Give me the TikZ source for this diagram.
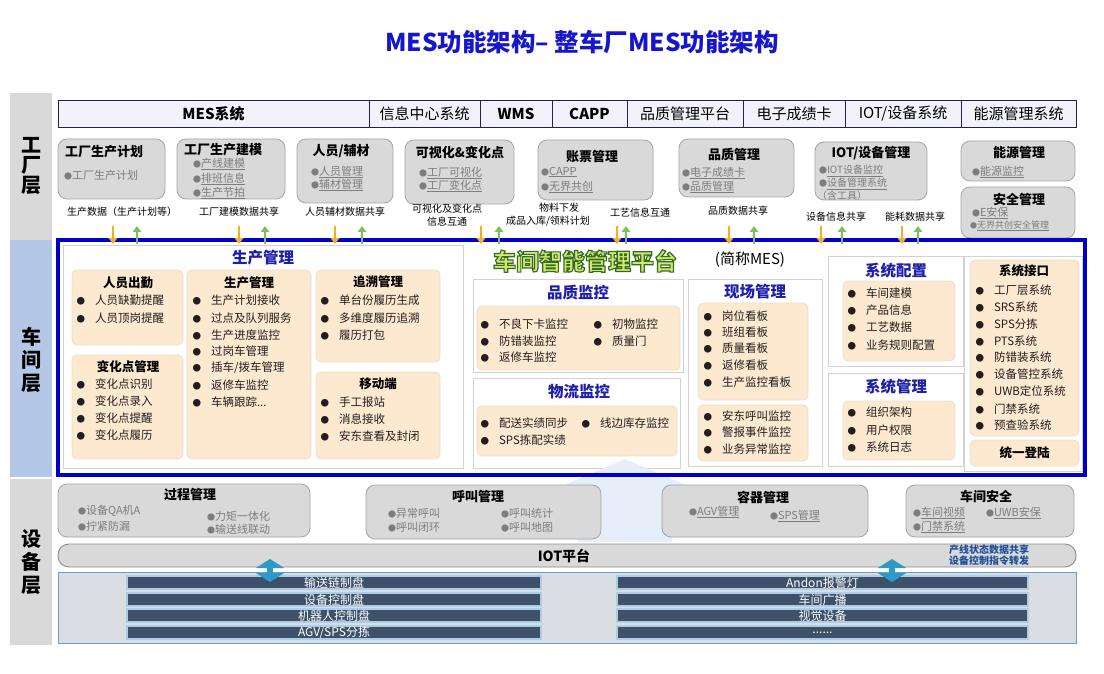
\documentclass[tikz,border=0pt]{standalone}
\usepackage{fontspec}
\setmainfont{Noto Sans CJK SC}
\newfontfamily\platfont{Noto Sans CJK SC}[BoldFeatures={FakeBold=5}]
\usetikzlibrary{arrows.meta}
\definecolor{ttlblue}{RGB}{22,22,204}
\definecolor{barfill}{RGB}{242,242,250}
\definecolor{barline}{RGB}{32,32,96}
\definecolor{colgray}{RGB}{217,217,217}
\definecolor{colblue}{RGB}{180,199,231}
\definecolor{fboxfill}{RGB}{217,217,217}
\definecolor{fboxline}{RGB}{165,165,165}
\definecolor{itemgray}{RGB}{125,125,125}
\definecolor{frameblue}{RGB}{0,0,200}
\definecolor{panelline}{RGB}{210,210,210}
\definecolor{beige}{RGB}{252,233,208}
\definecolor{beigeline}{RGB}{236,222,202}
\definecolor{pnltitle}{RGB}{30,30,170}
\definecolor{orangearr}{RGB}{240,176,32}
\definecolor{greenarr}{RGB}{130,190,90}
\definecolor{bardark}{RGB}{62,81,105}
\definecolor{barlight}{RGB}{170,205,232}
\definecolor{eqpanel}{RGB}{218,222,226}
\definecolor{eqline}{RGB}{100,160,200}
\definecolor{iotblue}{RGB}{31,78,154}
\definecolor{arrteal}{RGB}{46,154,200}
\definecolor{faintblue}{RGB}{230,239,249}
\definecolor{platfill}{RGB}{212,232,100}
\newcounter{bnum}
\newcounter{fnum}
\newcommand\RB[6]{\node[#1, minimum width={(#5-#3)*1pt}, minimum height={(#6-#4)*1pt}] (#2) at (#3,#4) {};}
\newcommand\RBT[7]{\node[#1, minimum width={(#5-#3)*1pt}, minimum height={(#6-#4)*1pt}] (#2) at (#3,#4) {#7};}
\newcommand\BI[3]{\stepcounter{bnum}\node[bitem] (bi\arabic{bnum}) at ({#1-4.5},#2) {\makebox[18.5pt][l]{\fontsize{8.5}{8.5}\selectfont ●}#3};}
\newcommand\FIu[3]{\stepcounter{fnum}\node[fitem] (fi\arabic{fnum}) at (#1,#2) {{\fontsize{8}{8}\selectfont ●}\underline{#3}};}
\newcommand\FIn[3]{\stepcounter{fnum}\node[fitem] (fi\arabic{fnum}) at (#1,#2) {{\fontsize{8}{8}\selectfont ●}#3};}
\tikzset{
 every node/.style={inner sep=0pt, outer sep=0pt},
 rbox/.style={anchor=north west},
 topcell/.style={rbox, fill=barfill, draw=barline, line width=0.9pt, font=\fontsize{15}{15}\selectfont},
 topbold/.style={topcell, font=\fontsize{15}{15}\selectfont\bfseries},
 fbox/.style={rbox, rounded corners=9pt, fill=fboxfill, draw=fboxline, line width=0.8pt},
 panel/.style={rbox, fill=white, draw=panelline, line width=0.8pt},
 bbox/.style={rbox, rounded corners=5pt, fill=beige, draw=beigeline, line width=0.8pt},
 ftitle/.style={font=\fontsize{13}{13}\selectfont\bfseries},
 fitem/.style={anchor=west, font=\fontsize{11}{11}\selectfont, text=itemgray},
 fitems/.style={fitem, font=\fontsize{10}{10}\selectfont},
 flabel/.style={font=\fontsize{10}{10}\selectfont},
 ptitle/.style={font=\fontsize{15.5}{15.5}\selectfont\bfseries, text=pnltitle},
 btitle/.style={font=\fontsize{12.5}{12.5}\selectfont\bfseries},
 bitem/.style={anchor=west, font=\fontsize{11.5}{11.5}\selectfont, text=black!88},
 downarr/.style={draw=orangearr, line width=2.6pt, -{Triangle[width=8.5pt,length=6pt]}},
 uparr/.style={draw=greenarr, line width=2.6pt, -{Triangle[width=8.5pt,length=6pt]}},
 layerlbl/.style={align=center, font=\fontsize{20}{20}\selectfont\bfseries},
 layerlblw/.style={align=center, font=\fontsize{20}{23}\selectfont\bfseries},
 plat/.style={font=\platfont\fontsize{23}{23}\selectfont\bfseries},
 eqbar/.style={rbox, fill=bardark, draw=barlight, line width=1.2pt, text=white, font=\fontsize{12}{12}\selectfont},
 dblarr/.style={draw=arrteal, line width=6pt, {Triangle[width=28pt,length=9pt]}-{Triangle[width=28pt,length=9pt]}},
}
\begin{document}
\begin{tikzpicture}[x=1pt,y=-1pt]
\useasboundingbox (0,0) rectangle (1104,674);
\fill[white] (0,0) rectangle (1104,674);
% title
\node[font=\fontsize{24.5}{24.5}\selectfont\bfseries, text=ttlblue] (title) at (582,42) {MES功能架构– 整车厂MES功能架构};
% layer columns
\RB{rbox, fill=colgray}{colf}{10}{93}{52}{240}
\RB{rbox, fill=colblue}{colw}{10}{240}{52}{477}
\RB{rbox, fill=colgray}{cole}{10}{479}{52}{645}
\node[layerlbl] (lyf) at (31,166) {工\\厂\\层};
\node[layerlblw] (lyw) at (31,360) {车\\间\\层};
\node[layerlblw] (lye) at (31,562) {设\\备\\层};
% top bar
\RBT{topbold}{c1}{58}{100}{369}{127}{MES系统}
\RBT{topcell}{c2}{369}{100}{480}{127}{信息中心系统}
\RBT{topbold}{c3}{480}{100}{552}{127}{WMS}
\RBT{topbold}{c4}{552}{100}{627}{127}{CAPP}
\RBT{topcell}{c5}{627}{100}{743}{127}{品质管理平台}
\RBT{topcell}{c6}{743}{100}{845}{127}{电子成绩卡}
\RBT{topcell}{c7}{845}{100}{961}{127}{IOT/设备系统}
\RBT{topcell}{c8}{961}{100}{1076}{127}{能源管理系统}
% factory boxes
\RB{fbox}{f1}{58}{139}{165}{199}
\node[ftitle] (f1t) at (104,152) {工厂生产计划};
\FIn{64}{175}{工厂生产计划}
\RB{fbox}{f2}{177}{139}{285}{199}
\node[ftitle] (f2t) at (223,150) {工厂生产建模};
\FIu{193}{164}{产线建模}
\FIu{193}{179}{排班信息}
\FIu{193}{193}{生产节拍}
\RB{fbox}{f3}{297}{139}{393}{203}
\node[ftitle] (f3t) at (341,151) {人员/辅材};
\FIu{311}{172}{人员管理}
\FIu{311}{185}{辅材管理}
\RB{fbox}{f4}{405}{140}{514}{204}
\node[ftitle] (f4t) at (460,152) {可视化\&变化点};
\FIu{419}{173}{工厂可视化}
\FIu{419}{186}{工厂变化点}
\RB{fbox}{f5}{538}{140}{653}{200}
\node[ftitle] (f5t) at (592,157) {账票管理};
\FIu{541}{172}{CAPP}
\FIu{541}{187}{无界共创}
\RB{fbox}{f6}{679}{139}{794}{197}
\node[ftitle] (f6t) at (734,155) {品质管理};
\FIu{682}{173}{电子成绩卡}
\FIu{682}{187}{品质管理}
\RB{fbox}{f7}{815}{142}{927}{200}
\node[ftitle] (f7t) at (871,153) {IOT/设备管理};
\stepcounter{fnum}\node[fitems] (fi\arabic{fnum}) at (819,171) {{\fontsize{8}{8}\selectfont ●}\underline{IOT设备监控}};
\stepcounter{fnum}\node[fitems] (fi\arabic{fnum}) at (819,184) {{\fontsize{8}{8}\selectfont ●}\underline{设备管理系统}};
\stepcounter{fnum}\node[fitems] (fi\arabic{fnum}) at (817,196) {（含工具）};
\RB{fbox}{f8}{961}{141}{1075}{181}
\node[ftitle] (f8t) at (1019,153) {能源管理};
\FIu{972}{172}{能源监控}
\RB{fbox}{f9}{961}{187}{1075}{238}
\node[ftitle] (f9t) at (1019,200) {安全管理};
\FIu{972}{213}{E安保}
\stepcounter{fnum}\node[fitem, font=\fontsize{9}{9}\selectfont] (fi\arabic{fnum}) at (970,226) {{\fontsize{7}{7}\selectfont ●}\underline{无界共创安全管理}};
% factory labels
\node[flabel] (l1) at (122,212) {生产数据（生产计划等）};
\node[flabel] (l2) at (239,212) {工厂建模数据共享};
\node[flabel] (l3) at (345,212) {人员辅材数据共享};
\node[flabel] (l4a) at (447,209) {可视化及变化点};
\node[flabel] (l4b) at (447,222) {信息互通};
\node[flabel] (l5a) at (559,208) {物料下发};
\node[flabel] (l5b) at (548,221) {成品入库/领料计划};
\node[flabel] (l6) at (640,213) {工艺信息互通};
\node[flabel] (l7) at (738,211) {品质数据共享};
\node[flabel] (l8) at (836,217) {设备信息共享};
\node[flabel] (l9) at (915,217) {能耗数据共享};
% workshop frame background
\RB{rbox, fill=white}{framebg}{58}{240}{1085}{475}
% production panel
\RB{panel}{p1}{63}{245}{463}{468}
\node[ptitle] (p1t) at (263,258) {生产管理};
\RB{bbox}{b1}{72}{270}{183}{345}
\node[btitle] (b1t) at (128,283) {人员出勤};
\BI{81}{300}{人员缺勤提醒}
\BI{81}{318}{人员顶岗提醒}
\RB{bbox}{b2}{72}{355}{183}{459}
\node[btitle] (b2t) at (128,367) {变化点管理};
\BI{81}{384}{变化点识别}
\BI{81}{401}{变化点录入}
\BI{81}{418}{变化点提醒}
\BI{81}{435}{变化点履历}
\RB{bbox}{b3}{187}{270}{311}{459}
\node[btitle] (b3t) at (249,283) {生产管理};
\BI{197}{300}{生产计划接收}
\BI{197}{318}{过点及队列服务}
\BI{197}{335}{生产进度监控}
\BI{197}{351}{过岗车管理}
\BI{197}{368}{插车/拨车管理}
\BI{197}{385}{返修车监控}
\BI{197}{402}{车辆跟踪...}
\RB{bbox}{b4}{316}{270}{440}{362}
\node[btitle] (b4t) at (378,282) {追溯管理};
\BI{325}{300}{单台份履历生成}
\BI{325}{318}{多维度履历追溯}
\BI{325}{335}{履历打包}
\RB{bbox}{b5}{316}{372}{440}{459}
\node[btitle] (b5t) at (378,384) {移动端};
\BI{325}{402}{手工报站}
\BI{325}{419}{消息接收}
\BI{325}{436}{安东查看及封闭}
% platform title (light fill, dark green outline via fake-bold stroke)
\node[plat, text=platfill] (plat) at (585,261) {\special{pdf:literal direct 0.2 0.42 0.17 RG}车间智能管理平台};
\node[font=\fontsize{15}{15}\selectfont] (platabbr) at (750,260) {(简称MES)};
% quality
\RB{panel}{p2}{473}{279}{683}{372}
\node[ptitle] (p2t) at (578,293) {品质监控};
\RB{bbox}{b6}{477}{306}{680}{370}
\BI{485}{324}{不良下卡监控}
\BI{485}{341}{防错装监控}
\BI{485}{357}{返修车监控}
\BI{598}{324}{初物监控}
\BI{598}{341}{质量门}
% logistics
\RB{panel}{p3}{473}{378}{680}{468}
\node[ptitle] (p3t) at (579,392) {物流监控};
\RB{bbox}{b7}{477}{406}{677}{456}
\BI{485}{423}{配送实绩同步}
\BI{485}{440}{SPS拣配实绩}
\BI{586}{423}{线边库存监控}
% site management
\RB{panel}{p4}{688}{279}{822}{466}
\node[ptitle] (p4t) at (755,292) {现场管理};
\RB{bbox}{b8}{698}{303}{808}{400}
\BI{708}{316}{岗位看板}
\BI{708}{332}{班组看板}
\BI{708}{348}{质量看板}
\BI{708}{365}{返修看板}
\BI{708}{382}{生产监控看板}
\RB{bbox}{b9}{698}{405}{808}{461}
\BI{708}{416}{安东呼叫监控}
\BI{708}{432}{警报事件监控}
\BI{708}{449}{业务异常监控}
% system config
\RB{panel}{p5}{828}{256}{963}{366}
\node[ptitle] (p5t) at (896,271) {系统配置};
\RB{bbox}{b10}{843}{281}{955}{361}
\BI{852}{293}{车间建模}
\BI{852}{310}{产品信息}
\BI{852}{327}{工艺数据}
\BI{852}{345}{业务规则配置}
% system management
\RB{panel}{p6}{828}{373}{963}{466}
\node[ptitle] (p6t) at (896,387) {系统管理};
\RB{bbox}{b11}{843}{401}{955}{460}
\BI{852}{412}{组织架构}
\BI{852}{430}{用户权限}
\BI{852}{447}{系统日志}
% system interface
\RB{panel}{p7}{964}{256}{1082}{471}
\RB{bbox}{b12}{970}{260}{1079}{436}
\node[btitle] (b12t) at (1024,271) {系统接口};
\BI{980}{290}{工厂层系统}
\BI{980}{307}{SRS系统}
\BI{980}{324}{SPS分拣}
\BI{980}{341}{PTS系统}
\BI{980}{357}{防错装系统}
\BI{980}{374}{设备管控系统}
\BI{980}{391}{UWB定位系统}
\BI{980}{409}{门禁系统}
\BI{980}{425}{预查验系统}
\RBT{bbox, btitle}{b13}{970}{440}{1079}{466}{统一登陆}
% faint arrow
\fill[faintblue] (625,459) -- (702,492) -- (672,492) -- (672,542) -- (578,542) -- (578,492) -- (548,492) -- cycle;
% frame border
\RB{rbox, draw=frameblue, line width=3.5pt}{frame}{58}{240}{1085}{475}
% arrows factory <-> workshop
\foreach \xo/\xg [count=\k] in {113/137,239/265,335/362,481/499,617/626,729/754,821/842,902/918}{
  \coordinate (ot\k) at (\xo,226); \coordinate (ob\k) at (\xo,244);
  \coordinate (gt\k) at (\xg,226); \coordinate (gb\k) at (\xg,244);
  \draw[downarr] (ot\k) -- (ob\k);
  \draw[uparr] (gb\k) -- (gt\k);
}
% equipment layer
\RB{fbox}{e1}{58}{484}{310}{537}
\node[ftitle] (e1t) at (190,495) {过程管理};
\FIn{78}{511}{设备QA机A}
\FIn{78}{526}{拧紧防漏}
\FIn{207}{516}{力矩一体化}
\FIn{207}{529}{输送线联动}
\RB{fbox}{e2}{366}{485}{601}{539}
\node[ftitle] (e2t) at (478,497) {呼叫管理};
\FIn{388}{513}{异常呼叫}
\FIn{388}{527}{呼叫闭环}
\FIn{501}{513}{呼叫统计}
\FIn{501}{527}{呼叫地图}
\RB{fbox}{e3}{662}{485}{868}{537}
\node[ftitle] (e3t) at (763,497) {容器管理};
\FIu{689}{512}{AGV管理}
\FIu{770}{516}{SPS管理}
\RB{fbox}{e4}{906}{485}{1074}{537}
\node[ftitle] (e4t) at (986,497) {车间安全};
\FIu{913}{513}{车间视频}
\FIu{913}{527}{门禁系统}
\FIu{986}{513}{UWB安保}
% IOT platform
\RB{rbox, rounded corners=11pt, fill=colgray, draw=gray!90, line width=0.9pt}{iot}{58}{544}{1076}{567}
\node[font=\fontsize{14}{14}\selectfont\bfseries] (iott) at (564,556) {IOT平台};
\node[anchor=west, text=iotblue, font=\fontsize{10}{10}\selectfont\bfseries] (iot1) at (949,550) {产线状态数据共享};
\node[anchor=west, text=iotblue, font=\fontsize{10}{10}\selectfont\bfseries] (iot2) at (949,561) {设备控制指令转发};
% device panel
\RB{rbox, fill=eqpanel, draw=eqline, line width=1pt}{dev}{58}{572}{1076}{643}
\RBT{eqbar}{d1}{127}{576}{541}{589}{输送链制盘}
\RBT{eqbar}{d2}{127}{593}{541}{606}{设备控制盘}
\RBT{eqbar}{d3}{127}{609}{541}{622}{机器人控制盘}
\RBT{eqbar}{d4}{127}{626}{541}{639}{AGV/SPS分拣}
\RBT{eqbar}{d5}{617}{576}{1028}{589}{Andon报警灯}
\RBT{eqbar}{d6}{617}{593}{1028}{606}{车间广播}
\RBT{eqbar}{d7}{617}{609}{1028}{622}{视觉设备}
\RBT{eqbar}{d8}{617}{626}{1028}{639}{......}
% double arrows
\coordinate (da1) at (270,559); \coordinate (db1) at (270,582);
\coordinate (da2) at (892,559); \coordinate (db2) at (892,582);
\draw[dblarr] (da1) -- (db1);
\draw[dblarr] (da2) -- (db2);
\end{tikzpicture}
\end{document}
